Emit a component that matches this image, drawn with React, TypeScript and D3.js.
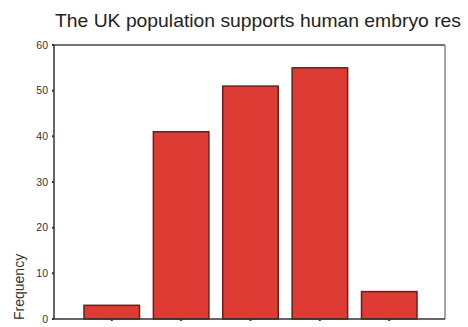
import React from "react";
import * as d3 from "d3";

const categories = ["Strongly disagree", "Disagree", "Neither", "Agree", "Strongly agree"];
const frequencies = [3, 41, 51, 55, 6];
const yTicks = [0, 10, 20, 30, 40, 50, 60];
const title = "The UK population supports human embryo res";
const yLabel = "Frequency";

const W = 468;
const H = 327;

export default function App() {
  const left = 54, right = 445, top = 45, bottom = 319;
  const y = d3.scaleLinear().domain([0, 60]).range([bottom, top]);
  const x = d3.scaleBand<string>().domain(categories).range([84, 417]).paddingInner(0.2).paddingOuter(0);
  return (
    <svg width={W} height={H} style={{ position: "absolute", left: 0, top: 0, background: "#fff" }}
      fontFamily="'Liberation Sans', Arial, sans-serif">
      <rect x={0} y={0} width={W} height={H} fill="#fff" />
      <text x={55} y={27} fontSize={19} fill="#222" textLength={406} lengthAdjust="spacingAndGlyphs">{title}</text>
      {/* frame */}
      <line x1={left} x2={right} y1={top} y2={top} stroke="#444" strokeWidth={1.3} />
      <line x1={right} x2={right} y1={top} y2={bottom} stroke="#888" strokeWidth={1.5} />
      {/* bars */}
      {categories.map((c, i) => (
        <rect key={c} x={x(c)} y={y(frequencies[i])} width={x.bandwidth()} height={bottom - y(frequencies[i])}
          fill="#dd3b33" stroke="#6e1d1b" strokeWidth={1.5} />
      ))}
      {/* axes */}
      <line x1={left} x2={right} y1={bottom} y2={bottom} stroke="#333" strokeWidth={1.5} />
      <line x1={left} x2={left} y1={top} y2={bottom} stroke="#333" strokeWidth={1.5} />
      {yTicks.map((t) => (
        <g key={t}>
          <line x1={left - 2} x2={left} y1={y(t)} y2={y(t)} stroke="#333" strokeWidth={2} />
          <text x={48} y={y(t) + 3.5} fontSize={10.5} textAnchor="end" fill="#333">{t}</text>
        </g>
      ))}
      {categories.map((c) => (
        <line key={c} x1={x(c)! + x.bandwidth() / 2} x2={x(c)! + x.bandwidth() / 2} y1={bottom} y2={bottom + 2}
          stroke="#333" strokeWidth={2} />
      ))}
      <text transform={`translate(24,320) rotate(-90)`} fontSize={14} fill="#333">{yLabel}</text>
    </svg>
  );
}
